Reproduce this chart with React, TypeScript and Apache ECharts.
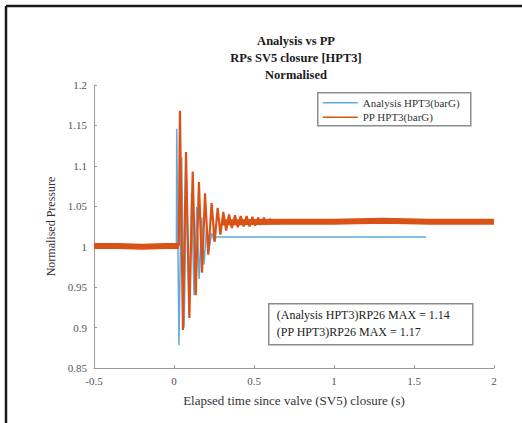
import React, { useEffect, useRef } from "react";
import * as echarts from "echarts";

// Analysis HPT3 (normalised pressure vs time, s)
const anTime = [0.0, 0.015, 0.017, 0.031, 0.048, 0.063, 0.079, 0.094, 0.11, 0.125, 0.142, 0.157, 0.173, 0.188, 0.204, 0.219, 0.235, 0.25, 0.265, 1.575];
const anValue = [1.0, 1.0, 1.146, 0.878, 1.111, 0.9, 1.084, 0.92, 1.066, 0.94, 1.049, 0.96, 1.036, 0.978, 1.025, 0.995, 1.017, 1.008, 1.012, 1.012];

// PP HPT3: steady band before closure
const ppPreTime = [-0.5, -0.35, -0.2, -0.05, 0.03];
const ppPreValue = [1.001, 1.001, 1.0, 1.001, 1.001];

// PP HPT3: ringing after closure
const ppRingTime = [0.03, 0.037, 0.056, 0.075, 0.096, 0.117, 0.136, 0.156, 0.175, 0.194, 0.214, 0.235, 0.254, 0.273, 0.29, 0.308, 0.326, 0.344, 0.362, 0.381, 0.399, 0.417, 0.435, 0.454, 0.472, 0.49, 0.508, 0.526, 0.544, 0.562, 0.58, 0.6, 0.62];
const ppRingValue = [1.001, 1.168, 0.897, 1.117, 0.912, 1.093, 0.94, 1.08, 0.968, 1.066, 0.99, 1.054, 1.006, 1.048, 1.015, 1.043, 1.02, 1.04, 1.023, 1.039, 1.024, 1.038, 1.025, 1.038, 1.025, 1.037, 1.026, 1.036, 1.027, 1.036, 1.028, 1.034, 1.031];

// PP HPT3: steady band after ringing
const ppPostTime = [0.3, 0.7, 1.0, 1.3, 1.6, 2.0];
const ppPostValue = [1.03, 1.031, 1.031, 1.032, 1.031, 1.031];

const titleLines = ["Analysis vs PP", "RPs SV5 closure [HPT3]", "Normalised"];
const seriesNames = ["Analysis HPT3(barG)", "PP HPT3(barG)"];
const annotationLines = ["(Analysis HPT3)RP26 MAX = 1.14", "(PP HPT3)RP26 MAX = 1.17"];
const xAxisName = "Elapsed time since valve (SV5) closure (s)";
const yAxisName = "Normalised Pressure";

const zip = (t: number[], v: number[]) => t.map((x, i) => [x, v[i]]);

const SERIF = "Liberation Serif";
const BLUE = "#62AADC";
const ORANGE = "#D95319";
const seriesColors = [BLUE, ORANGE];

export default function App() {
  const ref = useRef<HTMLDivElement>(null);
  useEffect(() => {
    if (!ref.current) return;
    const chart = echarts.init(ref.current, undefined, { renderer: "svg" });

    const legendChildren: any[] = [
      {
        type: "rect",
        shape: { x: 0, y: 0, width: 153, height: 33 },
        style: { fill: "#ffffff", stroke: "#8c8c8c", lineWidth: 1.5 },
      },
    ];
    seriesNames.forEach((name, i) => {
      const cy = 10 + i * 14.5;
      legendChildren.push({
        type: "line",
        shape: { x1: 5, y1: cy, x2: 40, y2: cy },
        style: { stroke: seriesColors[i], lineWidth: 1.3 },
      });
      legendChildren.push({
        type: "text",
        x: 45,
        y: cy,
        style: {
          text: name,
          fontFamily: SERIF,
          fontSize: 11,
          fill: "#333",
          verticalAlign: "middle",
        },
      });
    });

    chart.setOption({
      animation: false,
      backgroundColor: "#ffffff",
      title: {
        text: titleLines.join("\n"),
        left: 291,
        top: 27,
        textAlign: "center",
        textStyle: {
          fontFamily: SERIF,
          fontWeight: "bold",
          fontSize: 12.5,
          lineHeight: 17,
          color: "#1a1a1a",
        },
      },
      grid: { left: 94, right: 28, top: 85, bottom: 55, containLabel: false },
      xAxis: {
        type: "value",
        min: -0.5,
        max: 2,
        interval: 0.5,
        name: xAxisName,
        nameLocation: "middle",
        nameGap: 26,
        nameTextStyle: { fontFamily: SERIF, fontSize: 13, color: "#333" },
        axisLine: { onZero: false, lineStyle: { color: "#999", width: 1 } },
        axisTick: { inside: true, length: 3, lineStyle: { color: "#999" } },
        axisLabel: { fontFamily: SERIF, fontSize: 11, color: "#555", margin: 7 },
        splitLine: { show: false },
      },
      yAxis: {
        type: "value",
        min: 0.85,
        max: 1.2,
        interval: 0.05,
        name: yAxisName,
        nameLocation: "middle",
        nameGap: 30,
        nameTextStyle: { fontFamily: SERIF, fontSize: 12, color: "#333" },
        axisLine: { show: true, onZero: false, lineStyle: { color: "#999", width: 1 } },
        axisTick: { show: true, inside: true, length: 3, lineStyle: { color: "#999" } },
        axisLabel: { fontFamily: SERIF, fontSize: 11, color: "#555", margin: 7 },
        splitLine: { show: false },
      },
      series: [
        {
          name: seriesNames[0],
          type: "line",
          data: zip(anTime, anValue),
          symbol: "none",
          color: BLUE,
          lineStyle: { color: BLUE, width: 1.5 },
          z: 2,
        },
        {
          name: seriesNames[1],
          type: "line",
          data: zip(ppPreTime, ppPreValue),
          symbol: "none",
          color: ORANGE,
          lineStyle: { color: ORANGE, width: 6 },
          z: 3,
        },
        {
          name: seriesNames[1],
          type: "line",
          data: zip(ppPostTime, ppPostValue),
          symbol: "none",
          color: ORANGE,
          lineStyle: { color: ORANGE, width: 6 },
          z: 3,
        },
        {
          name: seriesNames[1],
          type: "line",
          data: zip(ppRingTime, ppRingValue),
          symbol: "none",
          color: ORANGE,
          lineStyle: { color: ORANGE, width: 2.2 },
          z: 4,
        },
      ],
      graphic: [
        {
          type: "line",
          shape: { x1: 6, y1: 6, x2: 522, y2: 6 },
          style: { stroke: "#1a1a1a", lineWidth: 2.5 },
        },
        {
          type: "line",
          shape: { x1: 6, y1: 6, x2: 6, y2: 423 },
          style: { stroke: "#1a1a1a", lineWidth: 2.5 },
        },
        {
          type: "group",
          left: 317,
          top: 92,
          z: 10,
          children: legendChildren,
        },
        {
          type: "group",
          left: 268,
          top: 303,
          z: 10,
          children: [
            {
              type: "rect",
              shape: { x: 0, y: 0, width: 204, height: 41 },
              style: { fill: "#ffffff", stroke: "#8c8c8c", lineWidth: 1.5 },
            },
            {
              type: "text",
              x: 8,
              y: 11,
              style: {
                text: annotationLines[0],
                fontFamily: SERIF,
                fontSize: 12,
                fill: "#222",
                verticalAlign: "middle",
              },
            },
            {
              type: "text",
              x: 8,
              y: 28,
              style: {
                text: annotationLines[1],
                fontFamily: SERIF,
                fontSize: 12,
                fill: "#222",
                verticalAlign: "middle",
              },
            },
          ],
        },
      ],
    });
    return () => chart.dispose();
  }, []);
  return (
    <div
      ref={ref}
      style={{ position: "fixed", left: 0, top: 0, width: 522, height: 423 }}
    />
  );
}
